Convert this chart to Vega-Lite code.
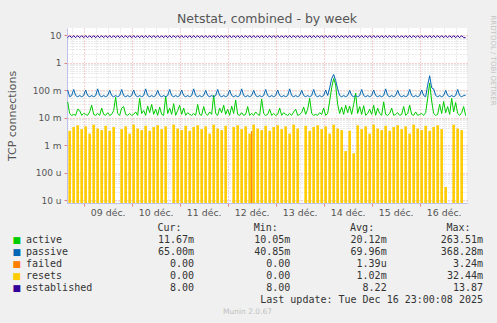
{
"$schema":"https://vega.github.io/schema/vega-lite/v6.json",
"width":400,"height":175,"autosize":"none",
"padding":{"left":67,"top":28,"right":30,"bottom":120},
"background":"#f0f0f0",
"title":{"text":"Netstat, combined - by week","fontSize":12.5,"fontWeight":"normal","color":"#555555","offset":-10},
"config":{"view":{"fill":"#ffffff","stroke":null},"font":"DejaVu Sans"},
"datasets":{
"net":[
{"t":"2025-12-08T16:00","active":0.037,"passive":0.1,"failed":0,"resets":0,"established":8},
{"t":"2025-12-08T17:00","active":0.014,"passive":0.057,"failed":0,"resets":0.0033,"established":9.5},
{"t":"2025-12-08T18:00","active":0.012,"passive":0.063,"failed":0,"resets":0,"established":8},
{"t":"2025-12-08T19:00","active":0.013,"passive":0.105,"failed":0,"resets":0.0045,"established":9.5},
{"t":"2025-12-08T20:00","active":0.012,"passive":0.063,"failed":0,"resets":0,"established":8},
{"t":"2025-12-08T21:00","active":0.02,"passive":0.057,"failed":0,"resets":0.0052,"established":9.5},
{"t":"2025-12-08T22:00","active":0.018,"passive":0.063,"failed":0,"resets":0,"established":8},
{"t":"2025-12-08T23:00","active":0.012,"passive":0.057,"failed":0,"resets":0.0038,"established":9.5},
{"t":"2025-12-09T00:00","active":0.014,"passive":0.063,"failed":0,"resets":0,"established":8},
{"t":"2025-12-09T01:00","active":0.013,"passive":0.1,"failed":0,"resets":0.0048,"established":9.5},
{"t":"2025-12-09T02:00","active":0.012,"passive":0.063,"failed":0,"resets":0,"established":8},
{"t":"2025-12-09T03:00","active":0.016,"passive":0.057,"failed":0,"resets":0.0026,"established":9.5},
{"t":"2025-12-09T04:00","active":0.028,"passive":0.063,"failed":0,"resets":0,"established":8},
{"t":"2025-12-09T05:00","active":0.013,"passive":0.057,"failed":0,"resets":0.0055,"established":9.5},
{"t":"2025-12-09T06:00","active":0.012,"passive":0.063,"failed":0,"resets":0,"established":8},
{"t":"2025-12-09T07:00","active":0.014,"passive":0.11,"failed":0,"resets":0.004,"established":9.5},
{"t":"2025-12-09T08:00","active":0.012,"passive":0.063,"failed":0,"resets":0,"established":8},
{"t":"2025-12-09T09:00","active":0.022,"passive":0.057,"failed":0,"resets":0.0035,"established":9.5},
{"t":"2025-12-09T10:00","active":0.013,"passive":0.063,"failed":0,"resets":0,"established":8},
{"t":"2025-12-09T11:00","active":0.012,"passive":0.057,"failed":0,"resets":0.005,"established":9.5},
{"t":"2025-12-09T12:00","active":0.015,"passive":0.063,"failed":0,"resets":0,"established":8},
{"t":"2025-12-09T13:00","active":0.012,"passive":0.098,"failed":0,"resets":0.0033,"established":9.5},
{"t":"2025-12-09T14:00","active":0.013,"passive":0.063,"failed":0,"resets":0,"established":8},
{"t":"2025-12-09T15:00","active":0.018,"passive":0.057,"failed":0,"resets":0.0045,"established":9.5},
{"t":"2025-12-09T16:00","active":0.055,"passive":0.063,"failed":0,"resets":0,"established":8},
{"t":"2025-12-09T17:00","active":0.014,"passive":0.057,"failed":0,"resets":0,"established":9.5},
{"t":"2025-12-09T18:00","active":0.012,"passive":0.063,"failed":0,"resets":0,"established":8},
{"t":"2025-12-09T19:00","active":0.022,"passive":0.105,"failed":0,"resets":0.0038,"established":9.5},
{"t":"2025-12-09T20:00","active":0.025,"passive":0.063,"failed":0,"resets":0,"established":8},
{"t":"2025-12-09T21:00","active":0.013,"passive":0.057,"failed":0,"resets":0.0048,"established":9.5},
{"t":"2025-12-09T22:00","active":0.012,"passive":0.063,"failed":0,"resets":0,"established":8},
{"t":"2025-12-09T23:00","active":0.014,"passive":0.057,"failed":0,"resets":0.0026,"established":9.5},
{"t":"2025-12-10T00:00","active":0.012,"passive":0.063,"failed":0,"resets":0,"established":8},
{"t":"2025-12-10T01:00","active":0.013,"passive":0.1,"failed":0,"resets":0.0055,"established":9.5},
{"t":"2025-12-10T02:00","active":0.016,"passive":0.063,"failed":0,"resets":0,"established":8},
{"t":"2025-12-10T03:00","active":0.012,"passive":0.057,"failed":0,"resets":0.004,"established":9.5},
{"t":"2025-12-10T04:00","active":0.05,"passive":0.063,"failed":0,"resets":0,"established":8},
{"t":"2025-12-10T05:00","active":0.014,"passive":0.057,"failed":0,"resets":0.0035,"established":9.5},
{"t":"2025-12-10T06:00","active":0.018,"passive":0.063,"failed":0,"resets":0,"established":8},
{"t":"2025-12-10T07:00","active":0.012,"passive":0.11,"failed":0,"resets":0.005,"established":9.5},
{"t":"2025-12-10T08:00","active":0.026,"passive":0.063,"failed":0,"resets":0,"established":8},
{"t":"2025-12-10T09:00","active":0.015,"passive":0.057,"failed":0,"resets":0.0033,"established":9.5},
{"t":"2025-12-10T10:00","active":0.03,"passive":0.063,"failed":0,"resets":0,"established":8},
{"t":"2025-12-10T11:00","active":0.013,"passive":0.057,"failed":0,"resets":0.0045,"established":9.5},
{"t":"2025-12-10T12:00","active":0.02,"passive":0.063,"failed":0,"resets":0,"established":8},
{"t":"2025-12-10T13:00","active":0.012,"passive":0.098,"failed":0,"resets":0.0052,"established":9.5},
{"t":"2025-12-10T14:00","active":0.024,"passive":0.063,"failed":0,"resets":0,"established":8},
{"t":"2025-12-10T15:00","active":0.013,"passive":0.057,"failed":0,"resets":0.0038,"established":9.5},
{"t":"2025-12-10T16:00","active":0.012,"passive":0.063,"failed":0,"resets":0,"established":8},
{"t":"2025-12-10T17:00","active":0.06,"passive":0.057,"failed":0,"resets":0.0048,"established":9.5},
{"t":"2025-12-10T18:00","active":0.014,"passive":0.063,"failed":0,"resets":0,"established":8},
{"t":"2025-12-10T19:00","active":0.022,"passive":0.105,"failed":0,"resets":0,"established":9.5},
{"t":"2025-12-10T20:00","active":0.013,"passive":0.063,"failed":0,"resets":0,"established":8},
{"t":"2025-12-10T21:00","active":0.032,"passive":0.057,"failed":0,"resets":0.0055,"established":9.5},
{"t":"2025-12-10T22:00","active":0.012,"passive":0.063,"failed":0,"resets":0,"established":8},
{"t":"2025-12-10T23:00","active":0.018,"passive":0.057,"failed":0,"resets":0.004,"established":9.5},
{"t":"2025-12-11T00:00","active":0.028,"passive":0.063,"failed":0,"resets":0,"established":8},
{"t":"2025-12-11T01:00","active":0.013,"passive":0.1,"failed":0,"resets":0.0035,"established":9.5},
{"t":"2025-12-11T02:00","active":0.022,"passive":0.063,"failed":0,"resets":0,"established":8},
{"t":"2025-12-11T03:00","active":0.012,"passive":0.057,"failed":0,"resets":0.005,"established":9.5},
{"t":"2025-12-11T04:00","active":0.015,"passive":0.063,"failed":0,"resets":0,"established":8},
{"t":"2025-12-11T05:00","active":0.013,"passive":0.057,"failed":0,"resets":0.0033,"established":9.5},
{"t":"2025-12-11T06:00","active":0.012,"passive":0.063,"failed":0,"resets":0,"established":8},
{"t":"2025-12-11T07:00","active":0.014,"passive":0.11,"failed":0,"resets":0.0045,"established":9.5},
{"t":"2025-12-11T08:00","active":0.012,"passive":0.063,"failed":0,"resets":0,"established":8},
{"t":"2025-12-11T09:00","active":0.03,"passive":0.057,"failed":0,"resets":0.0052,"established":9.5},
{"t":"2025-12-11T10:00","active":0.013,"passive":0.063,"failed":0,"resets":0,"established":8},
{"t":"2025-12-11T11:00","active":0.012,"passive":0.057,"failed":0,"resets":0.0038,"established":9.5},
{"t":"2025-12-11T12:00","active":0.025,"passive":0.063,"failed":0,"resets":0,"established":8},
{"t":"2025-12-11T13:00","active":0.014,"passive":0.098,"failed":0,"resets":0.0048,"established":9.5},
{"t":"2025-12-11T14:00","active":0.012,"passive":0.063,"failed":0,"resets":0,"established":8},
{"t":"2025-12-11T15:00","active":0.016,"passive":0.057,"failed":0,"resets":0.0026,"established":9.5},
{"t":"2025-12-11T16:00","active":0.013,"passive":0.063,"failed":0,"resets":0,"established":8},
{"t":"2025-12-11T17:00","active":0.065,"passive":0.057,"failed":0,"resets":0.0055,"established":9.5},
{"t":"2025-12-11T18:00","active":0.014,"passive":0.063,"failed":0,"resets":0,"established":8},
{"t":"2025-12-11T19:00","active":0.012,"passive":0.105,"failed":0,"resets":0.004,"established":9.5},
{"t":"2025-12-11T20:00","active":0.022,"passive":0.063,"failed":0,"resets":0,"established":8},
{"t":"2025-12-11T21:00","active":0.015,"passive":0.057,"failed":0,"resets":0.0035,"established":9.5},
{"t":"2025-12-11T22:00","active":0.028,"passive":0.063,"failed":0,"resets":0,"established":8},
{"t":"2025-12-11T23:00","active":0.013,"passive":0.057,"failed":0,"resets":0.005,"established":9.5},
{"t":"2025-12-12T00:00","active":0.02,"passive":0.063,"failed":0,"resets":0,"established":8},
{"t":"2025-12-12T01:00","active":0.012,"passive":0.1,"failed":0,"resets":0,"established":9.5},
{"t":"2025-12-12T02:00","active":0.026,"passive":0.063,"failed":0,"resets":0,"established":8},
{"t":"2025-12-12T03:00","active":0.014,"passive":0.057,"failed":0,"resets":0.0045,"established":9.5},
{"t":"2025-12-12T04:00","active":0.043,"passive":0.063,"failed":0,"resets":0,"established":8},
{"t":"2025-12-12T05:00","active":0.013,"passive":0.057,"failed":0,"resets":0.0052,"established":9.5},
{"t":"2025-12-12T06:00","active":0.012,"passive":0.063,"failed":0,"resets":0,"established":8},
{"t":"2025-12-12T07:00","active":0.015,"passive":0.11,"failed":0,"resets":0.0038,"established":9.5},
{"t":"2025-12-12T08:00","active":0.012,"passive":0.063,"failed":0,"resets":0,"established":8},
{"t":"2025-12-12T09:00","active":0.013,"passive":0.057,"failed":0,"resets":0.0048,"established":9.5},
{"t":"2025-12-12T10:00","active":0.025,"passive":0.063,"failed":0,"resets":0,"established":8},
{"t":"2025-12-12T11:00","active":0.012,"passive":0.057,"failed":0,"resets":0.0026,"established":9.5},
{"t":"2025-12-12T12:00","active":0.014,"passive":0.063,"failed":0.00324,"resets":0,"established":8},
{"t":"2025-12-12T13:00","active":0.012,"passive":0.098,"failed":0,"resets":0.0055,"established":9.5},
{"t":"2025-12-12T14:00","active":0.016,"passive":0.063,"failed":0,"resets":0,"established":8},
{"t":"2025-12-12T15:00","active":0.013,"passive":0.057,"failed":0,"resets":0.004,"established":9.5},
{"t":"2025-12-12T16:00","active":0.012,"passive":0.063,"failed":0,"resets":0,"established":8},
{"t":"2025-12-12T17:00","active":0.047,"passive":0.057,"failed":0,"resets":0.0035,"established":9.5},
{"t":"2025-12-12T18:00","active":0.014,"passive":0.063,"failed":0,"resets":0,"established":8},
{"t":"2025-12-12T19:00","active":0.012,"passive":0.105,"failed":0,"resets":0.005,"established":9.5},
{"t":"2025-12-12T20:00","active":0.013,"passive":0.063,"failed":0,"resets":0,"established":8},
{"t":"2025-12-12T21:00","active":0.02,"passive":0.057,"failed":0,"resets":0.0033,"established":9.5},
{"t":"2025-12-12T22:00","active":0.012,"passive":0.063,"failed":0,"resets":0,"established":8},
{"t":"2025-12-12T23:00","active":0.014,"passive":0.057,"failed":0,"resets":0.0045,"established":9.5},
{"t":"2025-12-13T00:00","active":0.012,"passive":0.063,"failed":0,"resets":0,"established":8},
{"t":"2025-12-13T01:00","active":0.013,"passive":0.1,"failed":0,"resets":0.0052,"established":9.5},
{"t":"2025-12-13T02:00","active":0.022,"passive":0.063,"failed":0,"resets":0,"established":8},
{"t":"2025-12-13T03:00","active":0.012,"passive":0.057,"failed":0,"resets":0.0038,"established":9.5},
{"t":"2025-12-13T04:00","active":0.015,"passive":0.063,"failed":0,"resets":0,"established":8},
{"t":"2025-12-13T05:00","active":0.013,"passive":0.057,"failed":0,"resets":0.0048,"established":9.5},
{"t":"2025-12-13T06:00","active":0.012,"passive":0.063,"failed":0,"resets":0,"established":8},
{"t":"2025-12-13T07:00","active":0.014,"passive":0.11,"failed":0,"resets":0.0026,"established":9.5},
{"t":"2025-12-13T08:00","active":0.012,"passive":0.063,"failed":0,"resets":0,"established":8},
{"t":"2025-12-13T09:00","active":0.016,"passive":0.057,"failed":0,"resets":0.0055,"established":9.5},
{"t":"2025-12-13T10:00","active":0.02,"passive":0.063,"failed":0,"resets":0,"established":8},
{"t":"2025-12-13T11:00","active":0.012,"passive":0.057,"failed":0,"resets":0.004,"established":9.5},
{"t":"2025-12-13T12:00","active":0.013,"passive":0.063,"failed":0,"resets":0,"established":8},
{"t":"2025-12-13T13:00","active":0.015,"passive":0.098,"failed":0,"resets":0,"established":9.5},
{"t":"2025-12-13T14:00","active":0.024,"passive":0.063,"failed":0,"resets":0,"established":8},
{"t":"2025-12-13T15:00","active":0.013,"passive":0.057,"failed":0,"resets":0.005,"established":9.5},
{"t":"2025-12-13T16:00","active":0.02,"passive":0.063,"failed":0,"resets":0,"established":8},
{"t":"2025-12-13T17:00","active":0.05,"passive":0.057,"failed":0,"resets":0.0033,"established":9.5},
{"t":"2025-12-13T18:00","active":0.014,"passive":0.063,"failed":0,"resets":0,"established":8},
{"t":"2025-12-13T19:00","active":0.012,"passive":0.105,"failed":0,"resets":0.0045,"established":9.5},
{"t":"2025-12-13T20:00","active":0.013,"passive":0.063,"failed":0,"resets":0,"established":8},
{"t":"2025-12-13T21:00","active":0.012,"passive":0.057,"failed":0,"resets":0.0052,"established":9.5},
{"t":"2025-12-13T22:00","active":0.015,"passive":0.063,"failed":0,"resets":0,"established":8},
{"t":"2025-12-13T23:00","active":0.013,"passive":0.057,"failed":0,"resets":0.0038,"established":9.5},
{"t":"2025-12-14T00:00","active":0.022,"passive":0.063,"failed":0,"resets":0,"established":8},
{"t":"2025-12-14T01:00","active":0.012,"passive":0.1,"failed":0,"resets":0.0048,"established":9.5},
{"t":"2025-12-14T02:00","active":0.014,"passive":0.063,"failed":0,"resets":0,"established":8},
{"t":"2025-12-14T03:00","active":0.04,"passive":0.12,"failed":0,"resets":0.0026,"established":9.5},
{"t":"2025-12-14T04:00","active":0.12,"passive":0.26,"failed":0,"resets":0,"established":8},
{"t":"2025-12-14T05:00","active":0.2635,"passive":0.368,"failed":0,"resets":0.0055,"established":9.5},
{"t":"2025-12-14T06:00","active":0.15,"passive":0.22,"failed":0,"resets":0,"established":8},
{"t":"2025-12-14T07:00","active":0.03,"passive":0.11,"failed":0,"resets":0.004,"established":9.5},
{"t":"2025-12-14T08:00","active":0.014,"passive":0.063,"failed":0,"resets":0,"established":8},
{"t":"2025-12-14T09:00","active":0.024,"passive":0.057,"failed":0,"resets":0.0035,"established":9.5},
{"t":"2025-12-14T10:00","active":0.013,"passive":0.063,"failed":0,"resets":0,"established":8},
{"t":"2025-12-14T11:00","active":0.028,"passive":0.057,"failed":0,"resets":0.0006,"established":9.5},
{"t":"2025-12-14T12:00","active":0.015,"passive":0.063,"failed":0,"resets":0,"established":8},
{"t":"2025-12-14T13:00","active":0.026,"passive":0.098,"failed":0,"resets":0.0033,"established":9.5},
{"t":"2025-12-14T14:00","active":0.013,"passive":0.063,"failed":0,"resets":0,"established":8},
{"t":"2025-12-14T15:00","active":0.03,"passive":0.057,"failed":0,"resets":0.0005,"established":9.5},
{"t":"2025-12-14T16:00","active":0.078,"passive":0.063,"failed":0,"resets":0,"established":8},
{"t":"2025-12-14T17:00","active":0.014,"passive":0.057,"failed":0,"resets":0.0052,"established":9.5},
{"t":"2025-12-14T18:00","active":0.025,"passive":0.063,"failed":0,"resets":0,"established":8},
{"t":"2025-12-14T19:00","active":0.013,"passive":0.105,"failed":0,"resets":0.0038,"established":9.5},
{"t":"2025-12-14T20:00","active":0.027,"passive":0.063,"failed":0,"resets":0,"established":8},
{"t":"2025-12-14T21:00","active":0.012,"passive":0.057,"failed":0,"resets":0.0048,"established":9.5},
{"t":"2025-12-14T22:00","active":0.014,"passive":0.063,"failed":0,"resets":0,"established":8},
{"t":"2025-12-14T23:00","active":0.02,"passive":0.057,"failed":0,"resets":0.0026,"established":9.5},
{"t":"2025-12-15T00:00","active":0.013,"passive":0.063,"failed":0,"resets":0,"established":8},
{"t":"2025-12-15T01:00","active":0.028,"passive":0.1,"failed":0,"resets":0.0055,"established":9.5},
{"t":"2025-12-15T02:00","active":0.012,"passive":0.063,"failed":0,"resets":0,"established":8},
{"t":"2025-12-15T03:00","active":0.022,"passive":0.057,"failed":0,"resets":0.004,"established":9.5},
{"t":"2025-12-15T04:00","active":0.014,"passive":0.063,"failed":0,"resets":0,"established":8},
{"t":"2025-12-15T05:00","active":0.012,"passive":0.057,"failed":0,"resets":0.0035,"established":9.5},
{"t":"2025-12-15T06:00","active":0.037,"passive":0.063,"failed":0,"resets":0,"established":8},
{"t":"2025-12-15T07:00","active":0.013,"passive":0.11,"failed":0,"resets":0.005,"established":9.5},
{"t":"2025-12-15T08:00","active":0.012,"passive":0.063,"failed":0,"resets":0,"established":8},
{"t":"2025-12-15T09:00","active":0.014,"passive":0.057,"failed":0,"resets":0.0033,"established":9.5},
{"t":"2025-12-15T10:00","active":0.022,"passive":0.063,"failed":0,"resets":0,"established":8},
{"t":"2025-12-15T11:00","active":0.012,"passive":0.057,"failed":0,"resets":0.0045,"established":9.5},
{"t":"2025-12-15T12:00","active":0.013,"passive":0.063,"failed":0,"resets":0,"established":8},
{"t":"2025-12-15T13:00","active":0.015,"passive":0.098,"failed":0,"resets":0.0052,"established":9.5},
{"t":"2025-12-15T14:00","active":0.012,"passive":0.063,"failed":0,"resets":0,"established":8},
{"t":"2025-12-15T15:00","active":0.013,"passive":0.057,"failed":0,"resets":0.0038,"established":9.5},
{"t":"2025-12-15T16:00","active":0.025,"passive":0.063,"failed":0,"resets":0,"established":8},
{"t":"2025-12-15T17:00","active":0.012,"passive":0.057,"failed":0,"resets":0.0048,"established":9.5},
{"t":"2025-12-15T18:00","active":0.014,"passive":0.063,"failed":0,"resets":0,"established":8},
{"t":"2025-12-15T19:00","active":0.028,"passive":0.105,"failed":0,"resets":0.0026,"established":9.5},
{"t":"2025-12-15T20:00","active":0.013,"passive":0.063,"failed":0,"resets":0,"established":8},
{"t":"2025-12-15T21:00","active":0.012,"passive":0.057,"failed":0,"resets":0.0055,"established":9.5},
{"t":"2025-12-15T22:00","active":0.016,"passive":0.063,"failed":0,"resets":0,"established":8},
{"t":"2025-12-15T23:00","active":0.012,"passive":0.057,"failed":0,"resets":0.004,"established":9.5},
{"t":"2025-12-16T00:00","active":0.013,"passive":0.063,"failed":0,"resets":0,"established":8},
{"t":"2025-12-16T01:00","active":0.014,"passive":0.1,"failed":0,"resets":0.0035,"established":9.5},
{"t":"2025-12-16T02:00","active":0.012,"passive":0.063,"failed":0,"resets":0,"established":8},
{"t":"2025-12-16T03:00","active":0.015,"passive":0.057,"failed":0,"resets":0.005,"established":9.5},
{"t":"2025-12-16T04:00","active":0.05,"passive":0.15,"failed":0,"resets":0,"established":8},
{"t":"2025-12-16T05:00","active":0.18,"passive":0.33,"failed":0,"resets":0.0033,"established":9.5},
{"t":"2025-12-16T06:00","active":0.04,"passive":0.12,"failed":0,"resets":0,"established":8},
{"t":"2025-12-16T07:00","active":0.014,"passive":0.11,"failed":0,"resets":0.0045,"established":9.5},
{"t":"2025-12-16T08:00","active":0.012,"passive":0.063,"failed":0,"resets":0,"established":8},
{"t":"2025-12-16T09:00","active":0.013,"passive":0.057,"failed":0,"resets":0.0052,"established":9.5},
{"t":"2025-12-16T10:00","active":0.03,"passive":0.063,"failed":0,"resets":0,"established":8},
{"t":"2025-12-16T11:00","active":0.014,"passive":0.057,"failed":0,"resets":0.0038,"established":9.5},
{"t":"2025-12-16T12:00","active":0.038,"passive":0.063,"failed":0,"resets":0,"established":8},
{"t":"2025-12-16T13:00","active":0.015,"passive":0.098,"failed":0,"resets":0.00003,"established":9.5},
{"t":"2025-12-16T14:00","active":0.025,"passive":0.063,"failed":0,"resets":0,"established":8},
{"t":"2025-12-16T15:00","active":0.013,"passive":0.057,"failed":0,"resets":0,"established":9.5},
{"t":"2025-12-16T16:00","active":0.05,"passive":0.063,"failed":0,"resets":0,"established":8},
{"t":"2025-12-16T17:00","active":0.016,"passive":0.057,"failed":0,"resets":0.0055,"established":9.5},
{"t":"2025-12-16T18:00","active":0.035,"passive":0.063,"failed":0,"resets":0,"established":8},
{"t":"2025-12-16T19:00","active":0.014,"passive":0.105,"failed":0,"resets":0.004,"established":9.5},
{"t":"2025-12-16T20:00","active":0.012,"passive":0.063,"failed":0,"resets":0,"established":8},
{"t":"2025-12-16T21:00","active":0.015,"passive":0.057,"failed":0,"resets":0.0035,"established":9.5},
{"t":"2025-12-16T22:00","active":0.025,"passive":0.063,"failed":0,"resets":0,"established":8},
{"t":"2025-12-16T23:00","active":0.01167,"passive":0.065,"failed":0,"resets":0,"established":8}
],
"legend":[
{"name":"active","cur":"11.67m","min":"10.05m","avg":"20.12m","max":"263.51m"},
{"name":"passive","cur":"65.00m","min":"40.85m","avg":"69.96m","max":"368.28m"},
{"name":"failed","cur":"0.00","min":"0.00","avg":"1.39u","max":"3.24m"},
{"name":"resets","cur":"0.00","min":"0.00","avg":"1.02m","max":"32.44m"},
{"name":"established","cur":"8.00","min":"8.00","avg":"8.22","max":"13.87"}
],
"cols":[
{"col":"cur","label":"Cur:"},{"col":"min","label":"Min:"},{"col":"avg","label":"Avg:"},{"col":"max","label":"Max:"}
],
"footer":[
{"row":"update","text":"Last update: Tue Dec 16 23:00:08 2025"},
{"row":"munin","text":"Munin 2.0.67"}
]
},
"layer":[
{
"data":{"name":"net"},
"layer":[
 {"transform":[{"filter":"datum.resets > 0"}],
  "mark":{"type":"rule","color":"#ffcc00","strokeWidth":2.6},
  "encoding":{
   "x":{"field":"t","type":"temporal","scale":{"domain":[{"year":2025,"month":12,"date":8,"hours":15,"minutes":40},{"year":2025,"month":12,"date":16,"hours":23,"minutes":40}]},
    "axis":{"orient":"bottom","title":null,"labels":false,"ticks":false,"domain":false,"grid":true,"gridColor":"#d4d4d4","gridDash":[1,2],"gridOpacity":1,
     "values":[{"year":2025,"month":12,"date":8,"hours":18},
      {"year":2025,"month":12,"date":9,"hours":6},{"year":2025,"month":12,"date":9,"hours":12},{"year":2025,"month":12,"date":9,"hours":18},
      {"year":2025,"month":12,"date":10,"hours":6},{"year":2025,"month":12,"date":10,"hours":12},{"year":2025,"month":12,"date":10,"hours":18},
      {"year":2025,"month":12,"date":11,"hours":6},{"year":2025,"month":12,"date":11,"hours":12},{"year":2025,"month":12,"date":11,"hours":18},
      {"year":2025,"month":12,"date":12,"hours":6},{"year":2025,"month":12,"date":12,"hours":12},{"year":2025,"month":12,"date":12,"hours":18},
      {"year":2025,"month":12,"date":13,"hours":6},{"year":2025,"month":12,"date":13,"hours":12},{"year":2025,"month":12,"date":13,"hours":18},
      {"year":2025,"month":12,"date":14,"hours":6},{"year":2025,"month":12,"date":14,"hours":12},{"year":2025,"month":12,"date":14,"hours":18},
      {"year":2025,"month":12,"date":15,"hours":6},{"year":2025,"month":12,"date":15,"hours":12},{"year":2025,"month":12,"date":15,"hours":18},
      {"year":2025,"month":12,"date":16,"hours":6},{"year":2025,"month":12,"date":16,"hours":12},{"year":2025,"month":12,"date":16,"hours":18}]}},
   "y":{"field":"resets","type":"quantitative","scale":{"type":"log","domain":[7.8e-6,18],"nice":false},
    "axis":{"orient":"left","title":null,"labels":false,"ticks":false,"domain":false,"grid":true,"gridColor":"#d4d4d4","gridDash":[1,2],"gridOpacity":1,
     "values":[0.000008,0.000009,0.00002,0.00003,0.00004,0.00005,0.00006,0.00007,0.00008,0.00009,0.0002,0.0003,0.0004,0.0005,0.0006,0.0007,0.0008,0.0009,0.002,0.003,0.004,0.005,0.006,0.007,0.008,0.009,0.02,0.03,0.04,0.05,0.06,0.07,0.08,0.09,0.2,0.3,0.4,0.5,0.6,0.7,0.8,0.9,2,3,4,5,6,7,8,9]}},
   "y2":{"datum":7.8e-6}}},
 {"transform":[{"filter":"datum.failed > 0"}],
  "mark":{"type":"rule","color":"#ff8000","strokeWidth":1.2},
  "encoding":{
   "x":{"field":"t","type":"temporal","scale":{"domain":[{"year":2025,"month":12,"date":8,"hours":15,"minutes":40},{"year":2025,"month":12,"date":16,"hours":23,"minutes":40}]},
    "axis":{"orient":"bottom","title":null,"labels":false,"ticks":true,"tickColor":"#e08080","tickSize":3,"domain":false,"grid":true,"gridColor":"#eaa0a0","gridDash":[1,2],"gridOpacity":1,
     "values":[{"year":2025,"month":12,"date":9,"hours":0},{"year":2025,"month":12,"date":10,"hours":0},{"year":2025,"month":12,"date":11,"hours":0},{"year":2025,"month":12,"date":12,"hours":0},{"year":2025,"month":12,"date":13,"hours":0},{"year":2025,"month":12,"date":14,"hours":0},{"year":2025,"month":12,"date":15,"hours":0},{"year":2025,"month":12,"date":16,"hours":0}]}},
   "y":{"field":"failed","type":"quantitative","scale":{"type":"log","domain":[7.8e-6,18],"nice":false},
    "axis":{"orient":"right","labels":false,"ticks":false,"domain":false,"grid":false,"title":"RRDTOOL / TOBI OETIKER","titleFontSize":7,"titleFontWeight":"normal","titleColor":"#c4c4c4","titleAngle":90,"titleAlign":"left","titleX":22,"titleY":-13}},
   "y2":{"datum":7.8e-6}}},
 {"transform":[{"fold":["active","passive","established"],"as":["series","value"]}],
  "mark":{"type":"line","strokeWidth":1,"clip":true},
  "encoding":{
   "x":{"field":"t","type":"temporal","scale":{"domain":[{"year":2025,"month":12,"date":8,"hours":15,"minutes":40},{"year":2025,"month":12,"date":16,"hours":23,"minutes":40}]},
    "axis":{"orient":"bottom","title":null,"ticks":false,"grid":false,"domainColor":"#c0c0ec","format":"%d déc.","labelFontSize":9.4,"labelColor":"#555555","labelPadding":5,
     "values":[{"year":2025,"month":12,"date":9,"hours":12},{"year":2025,"month":12,"date":10,"hours":12},{"year":2025,"month":12,"date":11,"hours":12},{"year":2025,"month":12,"date":12,"hours":12},{"year":2025,"month":12,"date":13,"hours":12},{"year":2025,"month":12,"date":14,"hours":12},{"year":2025,"month":12,"date":15,"hours":12},{"year":2025,"month":12,"date":16,"hours":12}]}},
   "y":{"field":"value","type":"quantitative","scale":{"type":"log","domain":[7.8e-6,18],"nice":false},
    "axis":{"orient":"left","title":"TCP connections","titleFontSize":11,"titleFontWeight":"normal","titleColor":"#555555","titleAngle":-90,"titleX":-50,"titleY":87.5,
     "values":[0.00001,0.0001,0.001,0.01,0.1,1,10],
     "labelExpr":"datum.value >= 0.999 ? format(datum.value,'.0f') + '\u00a0' : (datum.value >= 0.000999 ? format(datum.value*1000,'.0f') + ' m' : format(datum.value*1000000,'.0f') + ' u')",
     "labelFontSize":9,"labelColor":"#555555","labelPadding":3,
     "tickSize":3,"tickColor":"#e08080",
     "grid":true,"gridColor":"#eaa0a0","gridDash":[1,2],"gridOpacity":1,
     "domainColor":"#c0c0ec"}},
   "color":{"field":"series","type":"nominal","scale":{"domain":["active","passive","established"],"range":["#00cc00","#0066b3","#330099"]},"legend":null}}}
],
"resolve":{"axis":{"x":"independent","y":"independent"}}
},
{
"layer":[
 {"data":{"name":"cols"},
  "mark":{"type":"text","font":"DejaVu Sans Mono","fontSize":10,"color":"#333333","align":"right","baseline":"middle","dx":-12.5},
  "encoding":{
   "x":{"field":"col","type":"nominal","scale":{"type":"point","domain":["cur","min","avg","max"],"range":[127,416],"padding":0},"axis":null},
   "y":{"datum":"header","type":"nominal","scale":{"type":"point","domain":["header","active","passive","failed","resets","established","update","munin"],"range":[200,283.5],"padding":0},"axis":null},
   "text":{"field":"label"}}},
 {"data":{"name":"legend"},
  "transform":[{"fold":["cur","min","avg","max"],"as":["col","val"]}],
  "mark":{"type":"text","font":"DejaVu Sans Mono","fontSize":10,"color":"#333333","align":"right","baseline":"middle"},
  "encoding":{
   "x":{"field":"col","type":"nominal","scale":{"type":"point","domain":["cur","min","avg","max"],"range":[127,416],"padding":0},"axis":null},
   "y":{"field":"name","type":"nominal","scale":{"type":"point","domain":["header","active","passive","failed","resets","established","update","munin"],"range":[200,283.5],"padding":0},"axis":null},
   "text":{"field":"val"}}},
 {"data":{"name":"legend"},
  "mark":{"type":"text","font":"DejaVu Sans Mono","fontSize":10,"color":"#333333","align":"left","baseline":"middle","dx":-168},
  "encoding":{
   "x":{"datum":"cur","type":"nominal","scale":{"type":"point","domain":["cur","min","avg","max"],"range":[127,416],"padding":0},"axis":null},
   "y":{"field":"name","type":"nominal","scale":{"type":"point","domain":["header","active","passive","failed","resets","established","update","munin"],"range":[200,283.5],"padding":0},"axis":null},
   "text":{"field":"name"}}},
 {"data":{"name":"legend"},
  "mark":{"type":"text","fontSize":9,"align":"center","baseline":"middle","dx":-177.3},
  "encoding":{
   "x":{"datum":"cur","type":"nominal","scale":{"type":"point","domain":["cur","min","avg","max"],"range":[127,416],"padding":0},"axis":null},
   "y":{"field":"name","type":"nominal","scale":{"type":"point","domain":["header","active","passive","failed","resets","established","update","munin"],"range":[200,283.5],"padding":0},"axis":null},
   "color":{"field":"name","type":"nominal","scale":{"domain":["active","passive","failed","resets","established"],"range":["#00cc00","#0066b3","#ff8000","#ffcc00","#330099"]},"legend":null},
   "text":{"value":"■"}}},
 {"data":{"name":"footer"},
  "transform":[{"filter":"datum.row == 'update'"}],
  "mark":{"type":"text","font":"DejaVu Sans Mono","fontSize":10,"color":"#333333","align":"right","baseline":"middle"},
  "encoding":{
   "x":{"datum":"max","type":"nominal","scale":{"type":"point","domain":["cur","min","avg","max"],"range":[127,416],"padding":0},"axis":null},
   "y":{"field":"row","type":"nominal","scale":{"type":"point","domain":["header","active","passive","failed","resets","established","update","munin"],"range":[200,283.5],"padding":0},"axis":null},
   "text":{"field":"text"}}},
 {"data":{"name":"footer"},
  "transform":[{"filter":"datum.row == 'munin'"}],
  "mark":{"type":"text","fontSize":7.5,"color":"#c0c0c0","align":"center","baseline":"middle","dx":-42.8},
  "encoding":{
   "x":{"datum":"min","type":"nominal","scale":{"type":"point","domain":["cur","min","avg","max"],"range":[127,416],"padding":0},"axis":null},
   "y":{"field":"row","type":"nominal","scale":{"type":"point","domain":["header","active","passive","failed","resets","established","update","munin"],"range":[200,283.5],"padding":0},"axis":null},
   "text":{"field":"text"}}}
]
}
],
"resolve":{"scale":{"x":"independent","y":"independent","color":"independent"}}
}
